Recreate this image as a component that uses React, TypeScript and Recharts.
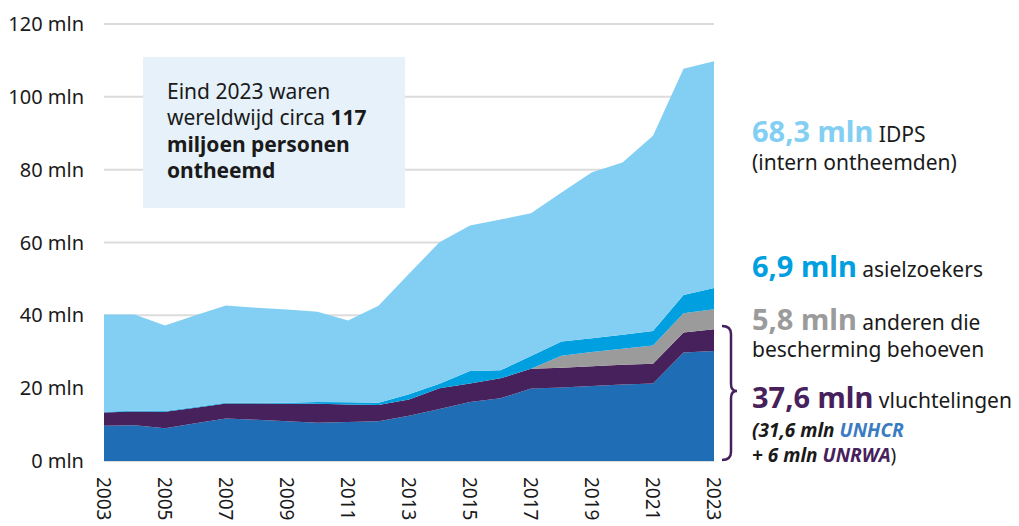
import { AreaChart, Area, XAxis, YAxis, CartesianGrid } from 'recharts'

const years = [2003, 2004, 2005, 2006, 2007, 2008, 2009, 2010, 2011, 2012, 2013, 2014, 2015, 2016, 2017, 2018, 2019, 2020, 2021, 2022, 2023]
// values in millions, per layer (stacked bottom to top)
const unhcr = [9.7, 9.8, 9.0, 10.4, 11.7, 11.3, 10.9, 10.5, 10.7, 10.9, 12.4, 14.3, 16.2, 17.2, 19.9, 20.2, 20.6, 21.0, 21.3, 29.8, 30.2]
const unrwa = [3.6, 3.8, 4.5, 4.2, 4.1, 4.5, 4.8, 5.2, 4.8, 4.5, 4.5, 5.7, 5.1, 5.5, 5.4, 5.4, 5.4, 5.4, 5.4, 5.5, 6.0]
const others = [0, 0, 0, 0, 0, 0, 0, 0, 0, 0, 0, 0, 0, 0, 0, 3.3, 3.9, 4.4, 5.0, 5.3, 5.5]
const asylum = [0.2, 0.2, 0.2, 0.2, 0.2, 0.2, 0.3, 0.5, 0.6, 0.6, 1.4, 1.2, 3.4, 2.2, 3.5, 3.9, 3.8, 3.9, 4.0, 5.0, 5.8]
const idps = [26.7, 26.4, 23.5, 25.2, 26.7, 26.1, 25.6, 24.8, 22.5, 26.6, 33.1, 38.9, 40.0, 41.4, 39.2, 40.9, 45.6, 47.3, 53.6, 62.1, 62.3]

const xTicks = [2003, 2005, 2007, 2009, 2011, 2013, 2015, 2017, 2019, 2021, 2023]
const yTicks = [0, 20, 40, 60, 80, 100, 120]

const data = years.map((year, i) => ({
  year,
  unhcr: unhcr[i],
  unrwa: unrwa[i],
  others: others[i],
  asylum: asylum[i],
  idps: idps[i],
}))

const FONT = '"Noto Sans", sans-serif'
const TEXT = '#1a1a1a'
const C_IDP = '#82cff3'
const C_ASYL = '#00a0e0'
const C_OTHER = '#9b9b9b'
const C_UNRWA = '#47215b'
const C_UNHCR = '#1f6eb5'

function YearTick({ x, y, payload }: any) {
  return (
    <text
      transform={`translate(${x},${y + 16}) rotate(90)`}
      textAnchor="start"
      dominantBaseline="central"
      fontSize={19}
      fill={TEXT}
      fontFamily={FONT}
    >
      {payload.value}
    </text>
  )
}

export default function App() {
  return (
    <div style={{ position: 'absolute', left: 0, top: 0, width: 1019, height: 526, background: '#fff', fontFamily: FONT, overflow: 'hidden' }}>
      <AreaChart width={1019} height={526} data={data} margin={{ top: 24, right: 305, bottom: 0, left: 0 }}>
        <CartesianGrid vertical={false} stroke="#dcdcdc" strokeWidth={2} />
        <XAxis
          dataKey="year"
          type="number"
          domain={[2003, 2023]}
          ticks={xTicks}
          tick={<YearTick />}
          tickLine={false}
          axisLine={false}
          tickSize={0}
          tickMargin={0}
          height={65}
          interval={0}
        />
        <YAxis
          domain={[0, 120]}
          ticks={yTicks}
          width={104}
          tickLine={false}
          axisLine={false}
          tickFormatter={(v: number) => `${v} mln`}
          tick={{ fontSize: 20, fill: TEXT, fontFamily: FONT }}
          tickMargin={14}
        />
        <Area type="linear" dataKey="unhcr" stackId="a" stroke="none" fill={C_UNHCR} fillOpacity={1} isAnimationActive={false} />
        <Area type="linear" dataKey="unrwa" stackId="a" stroke="none" fill={C_UNRWA} fillOpacity={1} isAnimationActive={false} />
        <Area type="linear" dataKey="others" stackId="a" stroke="none" fill={C_OTHER} fillOpacity={1} isAnimationActive={false} />
        <Area type="linear" dataKey="asylum" stackId="a" stroke="none" fill={C_ASYL} fillOpacity={1} isAnimationActive={false} />
        <Area type="linear" dataKey="idps" stackId="a" stroke="none" fill={C_IDP} fillOpacity={1} isAnimationActive={false} />
      </AreaChart>

      <div style={{ position: 'absolute', left: 143, top: 57, width: 262, height: 151, background: '#e6f1f9' }} />

      <svg width={1019} height={526} style={{ position: 'absolute', left: 0, top: 0, pointerEvents: 'none' }} fontFamily={FONT}>
        <g fontSize={21} fill={TEXT}>
          <text x={167} y={99}>Eind 2023 waren</text>
          <text x={167} y={125}>wereldwijd circa <tspan fontWeight="bold">117</tspan></text>
          <text x={167} y={152} fontWeight="bold">miljoen personen</text>
          <text x={167} y={178} fontWeight="bold">ontheemd</text>
        </g>

        <path
          d="M722,326 Q731,326 731,334 L731,384 Q731,391 737,391 Q731,391 731,398 L731,452 Q731,460 722,460"
          fill="none"
          stroke={C_UNRWA}
          strokeWidth={2.5}
        />

        <g fill={TEXT}>
          <text x={752} y={142}>
            <tspan fontSize={29} fontWeight="bold" fill={C_IDP}>68,3 mln</tspan>
            <tspan fontSize={21}> IDPS</tspan>
          </text>
          <text x={752} y={170} fontSize={21}>(intern ontheemden)</text>

          <text x={752} y={277}>
            <tspan fontSize={29} fontWeight="bold" fill={C_ASYL}>6,9 mln</tspan>
            <tspan fontSize={21}> asielzoekers</tspan>
          </text>

          <text x={752} y={330}>
            <tspan fontSize={29} fontWeight="bold" fill={C_OTHER}>5,8 mln</tspan>
            <tspan fontSize={21}> anderen die</tspan>
          </text>
          <text x={752} y={357} fontSize={21}>bescherming behoeven</text>

          <text x={752} y={408}>
            <tspan fontSize={29} fontWeight="bold" fill={C_UNRWA}>37,6 mln</tspan>
            <tspan fontSize={21}> vluchtelingen</tspan>
          </text>
          <text x={752} y={437} fontSize={19} fontWeight="bold" fontStyle="italic">
            (31,6 mln <tspan fill="#3a7cc3">UNHCR</tspan>
          </text>
          <text x={752} y={462} fontSize={19}>
            <tspan fontWeight="bold" fontStyle="italic">+ 6 mln </tspan>
            <tspan fontWeight="bold" fontStyle="italic" fill={C_UNRWA}>UNRWA</tspan>
            <tspan>)</tspan>
          </text>
        </g>
      </svg>
    </div>
  )
}
